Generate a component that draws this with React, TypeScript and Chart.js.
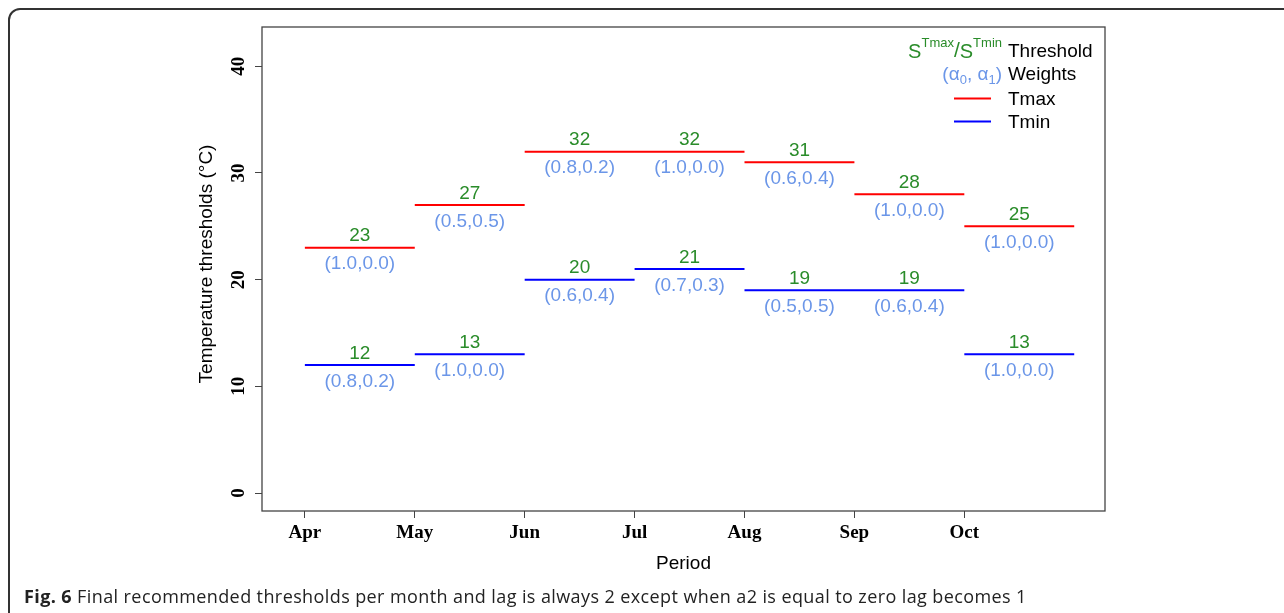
import React, { useEffect, useRef } from "react";
import { Chart, registerables } from "chart.js";

Chart.register(...registerables);

const months = ["Apr", "May", "Jun", "Jul", "Aug", "Sep", "Oct"];
const monthPositions = [1, 2, 3, 4, 5, 6, 7];
const tmaxValues = [23, 27, 32, 32, 31, 28, 25];
const tminValues = [12, 13, 20, 21, 19, 19, 13];
const tmaxWeights = ["(1.0,0.0)", "(0.5,0.5)", "(0.8,0.2)", "(1.0,0.0)", "(0.6,0.4)", "(1.0,0.0)", "(1.0,0.0)"];
const tminWeights = ["(0.8,0.2)", "(1.0,0.0)", "(0.6,0.4)", "(0.7,0.3)", "(0.5,0.5)", "(0.6,0.4)", "(1.0,0.0)"];
const yTickValues = [0, 10, 20, 30, 40];

const SANS = "'Liberation Sans', Arial, sans-serif";
const SERIF = "'Liberation Serif', 'Times New Roman', serif";
const GREEN = "#2a8c2a";
const LIGHTBLUE = "#6b96e8";

function segments(values: number[]) {
  const pts: { x: number; y: number | null }[] = [];
  values.forEach((v, i) => {
    const x0 = monthPositions[i];
    pts.push({ x: x0, y: v });
    pts.push({ x: x0 + 1, y: v });
    pts.push({ x: x0 + 1, y: null });
  });
  return pts;
}

const overlayPlugin = {
  id: "overlay",
  afterDraw(chart: any) {
    const ctx = chart.ctx;
    const xs = chart.scales.x;
    const ys = chart.scales.y;
    const ca = chart.chartArea;
    ctx.save();
    // plot box
    ctx.strokeStyle = "#444";
    ctx.lineWidth = 1.3;
    ctx.strokeRect(ca.left, ca.top, ca.right - ca.left, ca.bottom - ca.top);

    // y tick labels (rotated like R)
    ctx.fillStyle = "#000";
    ctx.font = `bold 19px ${SERIF}`;
    ctx.textAlign = "center";
    ctx.textBaseline = "middle";
    yTickValues.forEach((v) => {
      const py = ys.getPixelForValue(v);
      ctx.save();
      ctx.translate(ca.left - 23, py);
      ctx.rotate(-Math.PI / 2);
      ctx.fillText(String(v), 0, 0);
      ctx.restore();
    });

    // axis titles
    ctx.font = `19px ${SANS}`;
    ctx.fillStyle = "#000";
    ctx.fillText("Period", (ca.left + ca.right) / 2, 564);
    ctx.save();
    ctx.translate(207, (ca.top + ca.bottom) / 2 - 5);
    ctx.rotate(-Math.PI / 2);
    ctx.fillText("Temperature thresholds (\u00B0C)", 0, 0);
    ctx.restore();

    // segment labels
    const drawLabels = (values: number[], weights: string[]) => {
      values.forEach((v, i) => {
        const mx = xs.getPixelForValue(monthPositions[i] + 0.5);
        const py = ys.getPixelForValue(v);
        ctx.font = `19px ${SANS}`;
        ctx.textAlign = "center";
        ctx.fillStyle = GREEN;
        ctx.fillText(String(v), mx, py - 11.5);
        ctx.fillStyle = LIGHTBLUE;
        ctx.fillText(weights[i], mx, py + 16.5);
      });
    };
    drawLabels(tmaxValues, tmaxWeights);
    drawLabels(tminValues, tminWeights);

    // legend
    const rightEdge = ca.right - 103;
    const textX = ca.right - 97;
    const drawComposite = (parts: { t: string; size: number; dy: number; color: string }[], y: number) => {
      let total = 0;
      parts.forEach((p) => {
        ctx.font = `${p.size}px ${SANS}`;
        total += ctx.measureText(p.t).width;
      });
      let x = rightEdge - total;
      ctx.textAlign = "left";
      parts.forEach((p) => {
        ctx.font = `${p.size}px ${SANS}`;
        ctx.fillStyle = p.color;
        ctx.fillText(p.t, x, y + p.dy);
        x += ctx.measureText(p.t).width;
      });
    };
    ctx.textBaseline = "middle";
    drawComposite(
      [
        { t: "S", size: 20, dy: 0, color: GREEN },
        { t: "Tmax", size: 13, dy: -9, color: GREEN },
        { t: "/", size: 21, dy: -1, color: GREEN },
        { t: "S", size: 20, dy: 0, color: GREEN },
        { t: "Tmin", size: 13, dy: -9, color: GREEN },
      ],
      52
    );
    drawComposite(
      [
        { t: "(\u03B1", size: 19, dy: 0, color: LIGHTBLUE },
        { t: "0", size: 13, dy: 5, color: LIGHTBLUE },
        { t: ", \u03B1", size: 19, dy: 0, color: LIGHTBLUE },
        { t: "1", size: 13, dy: 5, color: LIGHTBLUE },
        { t: ")", size: 19, dy: 0, color: LIGHTBLUE },
      ],
      75
    );
    ctx.font = `19px ${SANS}`;
    ctx.fillStyle = "#000";
    ctx.textAlign = "left";
    ctx.fillText("Threshold", textX, 52);
    ctx.fillText("Weights", textX, 75);
    ctx.fillText("Tmax", textX, 99.5);
    ctx.fillText("Tmin", textX, 122.5);
    ctx.lineWidth = 2;
    ctx.strokeStyle = "#ff0000";
    ctx.beginPath();
    ctx.moveTo(textX - 54, 98.5);
    ctx.lineTo(textX - 17, 98.5);
    ctx.stroke();
    ctx.strokeStyle = "#0000ff";
    ctx.beginPath();
    ctx.moveTo(textX - 54, 121.5);
    ctx.lineTo(textX - 17, 121.5);
    ctx.stroke();
    ctx.restore();
  },
};

export default function App() {
  const canvasRef = useRef<HTMLCanvasElement | null>(null);

  useEffect(() => {
    document.body.style.margin = "0";
    const canvas = canvasRef.current;
    if (!canvas) return;
    const chart = new Chart(canvas, {
      type: "line",
      data: {
        datasets: [
          {
            label: "Tmax",
            data: segments(tmaxValues),
            borderColor: "#ff0000",
            borderWidth: 2,
            pointRadius: 0,
            spanGaps: false,
            tension: 0,
          },
          {
            label: "Tmin",
            data: segments(tminValues),
            borderColor: "#0000ff",
            borderWidth: 2,
            pointRadius: 0,
            spanGaps: false,
            tension: 0,
          },
        ],
      },
      options: {
        animation: false,
        responsive: false,
        devicePixelRatio: 1,
        layout: { padding: { left: 0, top: 27, right: 179, bottom: 0 } },
        plugins: { legend: { display: false }, tooltip: { enabled: false } },
        scales: {
          x: {
            type: "linear",
            min: 0.61,
            max: 8.28,
            afterBuildTicks: (scale: any) => {
              scale.ticks = monthPositions.map((v) => ({ value: v }));
            },
            afterFit: (scale: any) => {
              scale.height = 102;
              scale.paddingLeft = 0;
              scale.paddingRight = 0;
            },
            grid: { drawOnChartArea: false, drawTicks: true, tickLength: 7, color: "#444", lineWidth: 1 },
            border: { display: false },
            ticks: {
              autoSkip: false,
              maxRotation: 0,
              padding: 4,
              color: "#000",
              font: { family: SERIF, size: 19, weight: "bold" },
              callback: (v: any) => {
                const idx = monthPositions.indexOf(Number(v));
                return idx >= 0 ? months[idx] : "";
              },
            },
          },
          y: {
            type: "linear",
            min: -1.68,
            max: 43.68,
            afterBuildTicks: (scale: any) => {
              scale.ticks = yTickValues.map((v) => ({ value: v }));
            },
            afterFit: (scale: any) => {
              scale.width = 262;
              scale.paddingTop = 0;
              scale.paddingBottom = 0;
            },
            grid: { drawOnChartArea: false, drawTicks: true, tickLength: 7, color: "#444", lineWidth: 1 },
            border: { display: false },
            ticks: { display: false },
          },
        },
      },
      plugins: [overlayPlugin],
    } as any);
    return () => chart.destroy();
  }, []);

  return (
    <div style={{ position: "relative", width: 1284, height: 613, overflow: "hidden", background: "#fff" }}>
      <div
        style={{
          position: "absolute",
          left: 8,
          top: 8,
          width: 1320,
          height: 700,
          border: "2px solid #333",
          borderRadius: 12,
          boxSizing: "border-box",
        }}
      />
      <canvas ref={canvasRef} width={1284} height={613} style={{ position: "absolute", left: 0, top: 0 }} />
      <div
        style={{
          position: "absolute",
          left: 24,
          top: 585,
          fontFamily: "'Open Sans', sans-serif",
          fontSize: 18,
          letterSpacing: 0.4,
          color: "#222",
          whiteSpace: "nowrap",
          lineHeight: "22px",
        }}
      >
        <b>Fig. 6</b> Final recommended thresholds per month and lag is always 2 except when a2 is equal to zero lag becomes 1
      </div>
    </div>
  );
}
